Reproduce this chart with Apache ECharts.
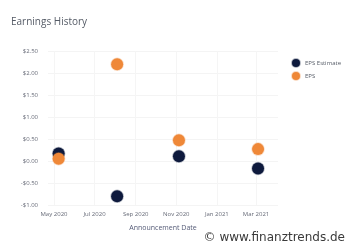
<!DOCTYPE html>
<html><head><meta charset="utf-8">
<script src="https://cdn.jsdelivr.net/npm/echarts@6/dist/echarts.min.js"></script>
<style>html,body{margin:0;padding:0;background:#fff}#c{width:350px;height:250px}</style>
</head><body><div id="c"></div>
<script>
const dates = ['2020-05-08', '2020-08-04', '2020-11-05', '2021-03-04'];
const epsEstimate = [0.17, -0.80, 0.11, -0.17];
const eps = [0.05, 2.20, 0.47, 0.27];
const xTicks = ['2020-05-01', '2020-07-01', '2020-09-01', '2020-11-01', '2021-01-01', '2021-03-01'];
const monthNames = ['Jan','Feb','Mar','Apr','May','Jun','Jul','Aug','Sep','Oct','Nov','Dec'];

const ts = d => +new Date(d + 'T00:00:00Z');
const chart = echarts.init(document.getElementById('c'));
const tickTs = xTicks.map(ts);
chart.setOption({
  animation: false,
  title: { text: 'Earnings History', left: 6, top: 12, textStyle: { fontFamily: 'Open Sans', fontSize: 10, fontWeight: 'normal', color: '#555b66' } },
  legend: {
    orient: 'vertical', left: 286, top: 53, itemWidth: 8, itemHeight: 8, itemGap: 3,
    icon: 'circle',
    textStyle: { fontFamily: 'Open Sans', fontSize: 6, color: '#555b66' },
    data: ['EPS Estimate', 'EPS']
  },
  grid: { left: 48, right: 72, top: 51, bottom: 45 },
  xAxis: {
    type: 'value',
    min: ts('2020-04-22'),
    max: ts('2021-04-03'),
    name: 'Announcement Date', nameLocation: 'middle', nameGap: 19,
    nameTextStyle: { fontFamily: 'Open Sans', fontSize: 7, color: '#555b77' },
    axisLine: { show: false }, axisTick: { show: false, customValues: tickTs },
    splitLine: { show: true, lineStyle: { color: '#f5f5f5', width: 1 } },
    axisLabel: {
      customValues: tickTs, fontFamily: 'Open Sans', fontSize: 6, color: '#666a77', margin: 6,
      formatter: v => { const d = new Date(v); return monthNames[d.getUTCMonth()] + ' ' + d.getUTCFullYear(); }
    }
  },
  yAxis: {
    type: 'value', min: -1, max: 2.5, interval: 0.5,
    axisLine: { show: false }, axisTick: { show: false },
    splitLine: { lineStyle: { color: '#f4f4f4', width: 1 } },
    axisLabel: {
      fontFamily: 'Open Sans', fontSize: 6, color: '#666a77', margin: 10,
      formatter: v => (v < 0 ? '-$' : '$') + Math.abs(v).toFixed(2)
    }
  },
  graphic: [{ type: 'text', right: 5, bottom: 6, style: { text: '© www.finanztrends.de', fontFamily: 'DejaVu Sans', fontSize: 12, fill: '#3a3a3a' } }],
  series: [
    { name: 'EPS Estimate', type: 'scatter', symbolSize: 12, itemStyle: { color: '#0e1a3d', opacity: 1, borderColor: 'rgba(14,26,61,0.3)', borderWidth: 1.5 }, data: dates.map((d, i) => [ts(d), epsEstimate[i]]) },
    { name: 'EPS', type: 'scatter', symbolSize: 12, itemStyle: { color: '#ef8838', opacity: 1, borderColor: 'rgba(239,136,56,0.3)', borderWidth: 1.5 }, data: dates.map((d, i) => [ts(d), eps[i]]) }
  ]
});
</script></body></html>
